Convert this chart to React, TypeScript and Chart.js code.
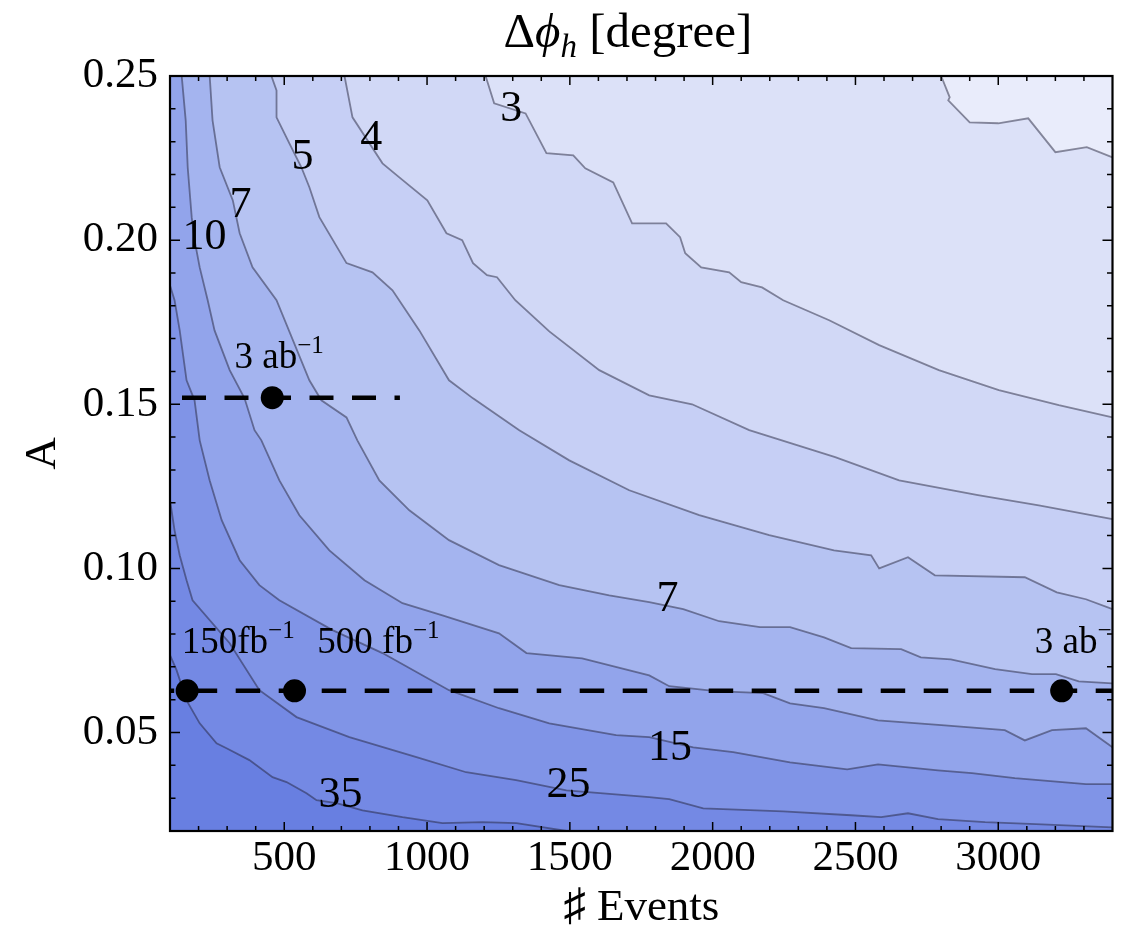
import React, { useEffect, useRef } from "react";
import { Chart, registerables } from "chart.js";
Chart.register(...registerables);

// ---- axes ----
const X_MIN = 100;
const X_MAX = 3400;
const Y_MIN = 0.02;
const Y_MAX = 0.25;
const X_TICKS = [500, 1000, 1500, 2000, 2500, 3000];
const Y_TICKS = [0.05, 0.1, 0.15, 0.2, 0.25];
const X_MINOR = [200, 300, 400, 500, 600, 700, 800, 900, 1000, 1100, 1200, 1300, 1400, 1500, 1600, 1700, 1800, 1900, 2000, 2100, 2200, 2300, 2400, 2500, 2600, 2700, 2800, 2900, 3000, 3100, 3200, 3300];
const Y_MINOR = [0.03, 0.04, 0.05, 0.06, 0.07, 0.08, 0.09, 0.1, 0.11, 0.12, 0.13, 0.14, 0.15, 0.16, 0.17, 0.18, 0.19, 0.2, 0.21, 0.22, 0.23, 0.24];

type P = [number, number];

// ---- contour lines (N events, A) ----
const C35: P[] = [[100,0.0736],[123,0.0690],[158,0.0598],[204,0.0528],[263,0.0467],[298,0.0452],[378,0.0416],[459,0.0364],[508,0.0349],[578,0.0315],[613,0.0294],[683,0.0285],[774,0.0263],[914,0.0242],[1054,0.0224],[1194,0.0227],[1313,0.0224],[1488,0.02]];
const C25: P[] = [[100,0.1208],[116,0.1116],[134,0.1040],[158,0.0964],[179,0.0903],[309,0.0772],[413,0.0629],[543,0.0547],[728,0.0486],[963,0.0425],[1137,0.0379],[1312,0.0355],[1488,0.0324],[1778,0.0303],[1848,0.0297],[1967,0.0269],[2247,0.0260],[2485,0.0248],[2590,0.0242],[2684,0.0254],[2789,0.0236],[2954,0.0227],[3132,0.0221],[3400,0.0211]];
const C15: P[] = [[100,0.1862],[116,0.1817],[134,0.1725],[158,0.1573],[186,0.1512],[204,0.1390],[239,0.1268],[281,0.1147],[344,0.1025],[413,0.0949],[483,0.0903],[669,0.0812],[844,0.0742],[1077,0.0629],[1252,0.0574],[1428,0.0528],[1662,0.0492],[1778,0.0486],[1932,0.0455],[2072,0.0440],[2271,0.0409],[2471,0.0388],[2579,0.0403],[2789,0.0385],[2908,0.0376],[3058,0.0361],[3307,0.0343],[3400,0.0343]];
const C10: P[] = [[141,0.25],[155,0.2365],[162,0.2222],[176,0.2070],[186,0.2000],[204,0.1917],[232,0.1817],[256,0.1725],[309,0.1604],[361,0.1518],[396,0.1421],[420,0.1390],[483,0.1268],[553,0.1162],[658,0.1055],[781,0.0964],[914,0.0894],[1054,0.0857],[1252,0.0802],[1348,0.0742],[1543,0.0726],[1778,0.0674],[1848,0.0641],[2012,0.0626],[2177,0.0620],[2271,0.0589],[2390,0.0574],[2579,0.0537],[2813,0.0522],[3023,0.0507],[3093,0.0476],[3188,0.0507],[3307,0.0513],[3400,0.0455]];
const C7: P[] = [[239,0.25],[249,0.2365],[274,0.2222],[320,0.2121],[344,0.2021],[389,0.1917],[473,0.1817],[588,0.1573],[630,0.1512],[718,0.1460],[756,0.1390],[833,0.1268],[938,0.1177],[1077,0.1086],[1252,0.1010],[1463,0.0949],[1638,0.0918],[1778,0.0897],[1897,0.0876],[2023,0.0839],[2166,0.0821],[2271,0.0821],[2390,0.0790],[2485,0.0757],[2660,0.0754],[2729,0.0729],[2834,0.0723],[2989,0.0693],[3118,0.0678],[3202,0.0678],[3282,0.0656],[3400,0.0650]];
const C5: P[] = [[455,0.25],[473,0.2456],[473,0.2374],[518,0.2295],[560,0.2222],[588,0.2161],[623,0.2070],[718,0.1930],[809,0.1902],[879,0.1847],[973,0.1725],[1077,0.1573],[1161,0.1518],[1323,0.1421],[1498,0.1329],[1708,0.1238],[1953,0.1162],[2198,0.1101],[2425,0.1055],[2555,0.1040],[2583,0.1000],[2684,0.1034],[2778,0.0979],[3093,0.0973],[3205,0.0927],[3307,0.0906],[3400,0.0876]];
const C4: P[] = [[711,0.25],[739,0.2374],[844,0.2234],[903,0.2191],[1001,0.2121],[1068,0.2021],[1123,0.2000],[1161,0.1930],[1210,0.1893],[1245,0.1887],[1309,0.1817],[1428,0.1722],[1603,0.1604],[1778,0.1527],[1928,0.1500],[2128,0.1421],[2429,0.1339],[2653,0.1268],[2929,0.1223],[3142,0.1192],[3400,0.1150]];
const C3: P[] = [[1205,0.25],[1235,0.2417],[1345,0.2386],[1418,0.2265],[1512,0.2258],[1554,0.2219],[1652,0.2176],[1718,0.2051],[1837,0.2051],[1886,0.2009],[1904,0.1960],[1960,0.1917],[2058,0.1902],[2100,0.1872],[2173,0.1856],[2247,0.1817],[2408,0.1756],[2583,0.1680],[2792,0.1604],[3002,0.1543],[3212,0.1497],[3400,0.1460]];
const C2: P[] = [[2800,0.25],[2830,0.2435],[2825,0.2426],[2900,0.2359],[3000,0.2356],[3105,0.2371],[3200,0.2268],[3310,0.2283],[3400,0.2252]];

// contour lines ordered from highest level to lowest
const CONTOURS: P[][] = [C35, C25, C15, C10, C7, C5, C4, C3, C2];
// band colours: index 0 = above 35 (darkest), last = below 2 (lightest)
const BAND_COLORS = [
  "rgb(104,127,225)",
  "rgb(116,137,228)",
  "rgb(128,148,231)",
  "rgb(146,164,235)",
  "rgb(164,180,239)",
  "rgb(182,195,242)",
  "rgb(198,207,245)",
  "rgb(209,216,246)",
  "rgb(220,225,248)",
  "rgb(233,236,251)",
];

// ---- contour labels ----
const CONTOUR_LABELS = ["10", "7", "5", "4", "3", "7", "15", "25", "35"];
const CONTOUR_LABEL_N = [221, 347, 564, 805, 1295, 1842, 1851, 1495, 697];
const CONTOUR_LABEL_A = [0.2009, 0.2106, 0.2252, 0.231, 0.2398, 0.0906, 0.0452, 0.034, 0.0309];

// ---- luminosity benchmarks ----
const UPPER_A = 0.152;
const UPPER_LINE_N = [100, 905];
const UPPER_DOT_N = [458];
const LOWER_A = 0.0627;
const LOWER_LINE_N = [100, 3400];
const LOWER_DOT_N = [160, 536, 3222];
const LUMI_TEXT = ["3 ab", "150fb", "500 fb", "3 ab"];
const LUMI_N = [326, 141, 616, 3128];
const LUMI_A = [0.161, 0.0742, 0.0742, 0.0742];

const SERIF = '"Liberation Serif", "DejaVu Serif", serif';

function toXY(pts: P[]) {
  return pts.map(([x, y]) => ({ x, y }));
}

function region(c: P[]): P[] {
  const pts = c.slice();
  const first = pts[0];
  const last = pts[pts.length - 1];
  if (last[1] <= Y_MIN + 1e-9) pts.push([X_MAX, Y_MIN]);
  pts.push([X_MAX, Y_MAX]);
  if (first[0] <= X_MIN + 1e-9) pts.push([X_MIN, Y_MAX]);
  pts.push(first);
  return pts;
}

const framePlugin = {
  id: "frameTicks",
  afterDatasetsDraw(chart: any) {
    const { ctx, chartArea: a, scales } = chart;
    const x = scales.x;
    const y = scales.y;
    ctx.save();
    ctx.strokeStyle = "#000";
    ctx.lineWidth = 1.5;
    ctx.beginPath();
    for (const v of X_MINOR) {
      const px = x.getPixelForValue(v);
      const len = v % 500 === 0 ? 9 : 5;
      ctx.moveTo(px, a.bottom);
      ctx.lineTo(px, a.bottom - len);
      ctx.moveTo(px, a.top);
      ctx.lineTo(px, a.top + len);
    }
    for (const v of Y_MINOR) {
      const py = y.getPixelForValue(v);
      const major = Math.round(v * 100) % 5 === 0;
      const len = major ? 10 : 5.5;
      ctx.moveTo(a.left, py);
      ctx.lineTo(a.left + len, py);
      ctx.moveTo(a.right, py);
      ctx.lineTo(a.right - len, py);
    }
    ctx.stroke();
    ctx.lineWidth = 2.2;
    ctx.strokeRect(a.left, a.top, a.right - a.left, a.bottom - a.top);
    ctx.restore();
  },
};

function drawRuns(ctx: CanvasRenderingContext2D, runs: any[], x: number, y: number) {
  let cx = x;
  for (const r of runs) {
    ctx.font = `${r.italic ? "italic " : ""}${r.size}px ${SERIF}`;
    ctx.fillText(r.t, cx, y + (r.dy || 0));
    cx += ctx.measureText(r.t).width;
  }
  return cx;
}
function runsWidth(ctx: CanvasRenderingContext2D, runs: any[]) {
  let w = 0;
  for (const r of runs) {
    ctx.font = `${r.italic ? "italic " : ""}${r.size}px ${SERIF}`;
    w += ctx.measureText(r.t).width;
  }
  return w;
}

const labelPlugin = {
  id: "labels",
  afterDatasetsDraw(chart: any) {
    const { ctx, chartArea: a, scales } = chart;
    const x = scales.x;
    const y = scales.y;
    ctx.save();
    ctx.beginPath();
    ctx.rect(a.left, a.top, a.right - a.left, a.bottom - a.top);
    ctx.clip();
    ctx.fillStyle = "#000";
    ctx.textAlign = "center";
    ctx.textBaseline = "middle";
    ctx.font = `44px ${SERIF}`;
    CONTOUR_LABELS.forEach((t, i) => {
      ctx.fillText(t, x.getPixelForValue(CONTOUR_LABEL_N[i]), y.getPixelForValue(CONTOUR_LABEL_A[i]));
    });
    ctx.textAlign = "left";
    ctx.textBaseline = "alphabetic";
    LUMI_TEXT.forEach((t, i) => {
      drawRuns(
        ctx,
        [
          { t, size: 37 },
          { t: "\u22121", size: 25, dy: -15 },
        ],
        x.getPixelForValue(LUMI_N[i]),
        y.getPixelForValue(LUMI_A[i])
      );
    });
    ctx.restore();
  },
};

const titlePlugin = {
  id: "richTitle",
  afterDraw(chart: any) {
    const { ctx } = chart;
    const runs = [
      { t: "\u0394", size: 49 },
      { t: "\u03d5", size: 49, italic: true },
      { t: "h", size: 33, italic: true, dy: 10 },
      { t: " [degree]", size: 49 },
    ];
    ctx.save();
    ctx.fillStyle = "#000";
    ctx.textAlign = "left";
    ctx.textBaseline = "alphabetic";
    const w = runsWidth(ctx, runs);
    drawRuns(ctx, runs, 628 - w / 2, 47);
    ctx.restore();
  },
};

export default function App() {
  const ref = useRef<HTMLCanvasElement | null>(null);
  useEffect(() => {
    document.body.style.margin = "0";
    if (!ref.current) return;
    const datasets: any[] = [];
    datasets.push({
      data: toXY([[X_MIN, Y_MIN], [X_MAX, Y_MIN], [X_MAX, Y_MAX], [X_MIN, Y_MAX], [X_MIN, Y_MIN]]),
      fill: "shape",
      backgroundColor: BAND_COLORS[0],
      borderWidth: 0,
      pointRadius: 0,
      order: 100,
    });
    CONTOURS.forEach((c, i) => {
      datasets.push({
        data: toXY(region(c)),
        fill: "shape",
        backgroundColor: BAND_COLORS[i + 1],
        borderWidth: 0,
        pointRadius: 0,
        order: 99 - i,
      });
    });
    CONTOURS.forEach((c) => {
      datasets.push({
        data: toXY(c),
        fill: false,
        borderColor: "rgba(35,35,60,0.5)",
        borderWidth: 1.8,
        pointRadius: 0,
        order: 50,
      });
    });
    datasets.push({
      data: UPPER_LINE_N.map((n) => ({ x: n, y: UPPER_A })),
      fill: false,
      borderColor: "#000",
      borderWidth: 4.5,
      borderDash: [24, 18.5],
      borderDashOffset: 30.5,
      borderCapStyle: "butt",
      pointRadius: 0,
      order: 10,
    });
    datasets.push({
      data: LOWER_LINE_N.map((n) => ({ x: n, y: LOWER_A })),
      fill: false,
      borderColor: "#000",
      borderWidth: 4.5,
      borderDash: [24.5, 18.5],
      borderDashOffset: 20.3,
      borderCapStyle: "butt",
      pointRadius: 0,
      order: 10,
    });
    datasets.push({
      data: [...UPPER_DOT_N.map((n) => ({ x: n, y: UPPER_A })), ...LOWER_DOT_N.map((n) => ({ x: n, y: LOWER_A }))],
      showLine: false,
      pointRadius: 11.5,
      pointBackgroundColor: "#000",
      pointBorderWidth: 0,
      borderWidth: 0,
      order: 5,
    });

    const chart = new Chart(ref.current, {
      type: "line",
      data: { datasets },
      options: {
        animation: false,
        responsive: false,
        devicePixelRatio: 1,
        events: [],
        layout: { padding: { left: 0, right: 11, top: 76, bottom: 0 } },
        plugins: { legend: { display: false }, tooltip: { enabled: false }, title: { display: false } },
        elements: { line: { tension: 0 } },
        scales: {
          x: {
            type: "linear",
            min: X_MIN,
            max: X_MAX,
            afterBuildTicks: (s: any) => {
              s.ticks = X_TICKS.map((v) => ({ value: v }));
            },
            afterFit: (s: any) => {
              s.height = 104;
            },
            grid: { display: false, drawTicks: false },
            border: { display: false },
            ticks: {
              color: "#000",
              padding: 2,
              maxRotation: 0,
              autoSkip: false,
              font: { family: SERIF, size: 43 },
              callback: (v: any) => String(v),
            },
            title: {
              display: true,
              text: "\u266f Events",
              color: "#000",
              font: { family: SERIF, size: 45, lineHeight: 1.2 },
              padding: { top: 0, bottom: 0 },
            },
          },
          y: {
            type: "linear",
            min: Y_MIN,
            max: Y_MAX,
            afterBuildTicks: (s: any) => {
              s.ticks = Y_TICKS.map((v) => ({ value: v }));
            },
            afterFit: (s: any) => {
              s.width = 170;
            },
            grid: { display: false, drawTicks: false },
            border: { display: false },
            ticks: {
              color: "#000",
              padding: 12,
              autoSkip: false,
              font: { family: SERIF, size: 43 },
              callback: (v: any) => Number(v).toFixed(2),
            },
            title: {
              display: true,
              text: "A",
              color: "#000",
              font: { family: SERIF, size: 45, lineHeight: 1.2 },
              padding: { top: 16, bottom: 0 },
            },
          },
        },
      },
      plugins: [framePlugin, labelPlugin, titlePlugin],
    } as any);
    return () => chart.destroy();
  }, []);
  return (
    <div style={{ width: 1124, height: 935 }}>
      <canvas ref={ref} width={1124} height={935} style={{ width: 1124, height: 935, display: "block" }} />
    </div>
  );
}
